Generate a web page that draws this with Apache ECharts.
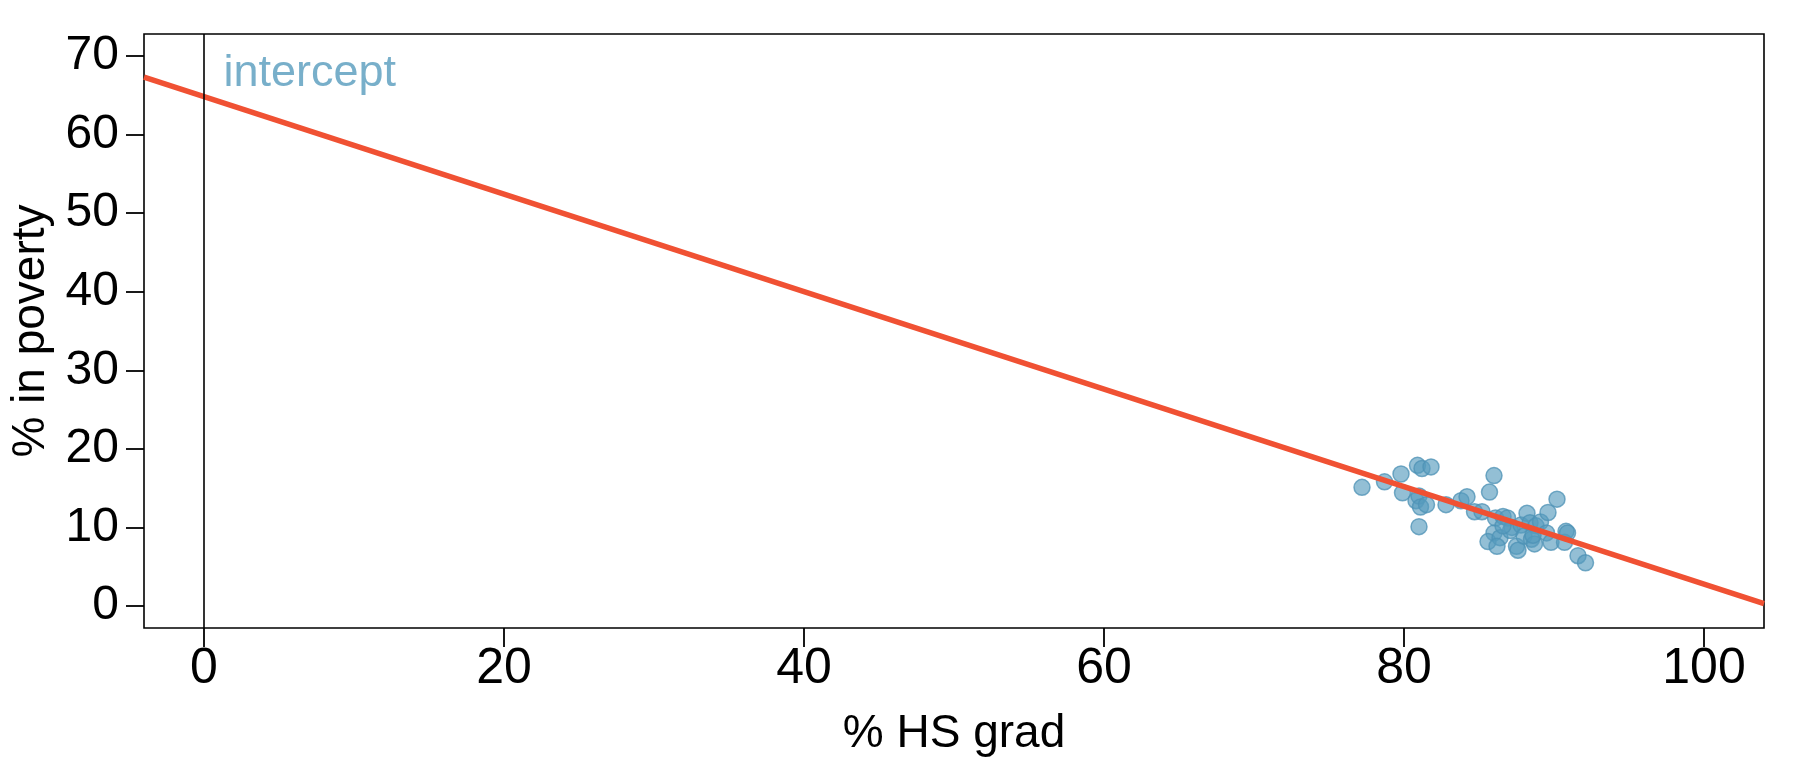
<!DOCTYPE html>
<html>
<head>
<meta charset="utf-8">
<script src="https://cdn.jsdelivr.net/npm/echarts@6/dist/echarts.min.js"></script>
<style>
  html, body { margin: 0; padding: 0; background: #fff; }
  #chart { width: 1800px; height: 773px; }
</style>
</head>
<body>
<div id="chart"></div>
<script>
// Data
const hsGrad = [77.2, 78.7, 79.8, 79.9, 80.9, 81.2, 81.8, 80.8, 81.0, 81.1, 81.5, 81.0,
  82.8, 83.8, 84.2, 84.7, 85.2, 86.0, 85.7, 86.1, 86.6, 86.9, 86.0, 85.6, 86.4, 86.2,
  87.2, 87.1, 87.5, 87.6, 87.8, 88.2, 88.4, 88.8, 89.1, 88.0, 88.5, 88.7, 89.5, 89.6,
  90.2, 89.8, 90.7, 90.8, 90.9, 91.6, 92.1, 88.6, 86.6];
const poverty = [15.1, 15.8, 16.8, 14.4, 17.9, 17.5, 17.7, 13.4, 14.0, 12.6, 12.9, 10.1,
  12.9, 13.4, 13.9, 12.0, 12.0, 16.6, 14.5, 11.2, 11.4, 11.2, 9.3, 8.2, 8.7, 7.6,
  10.0, 9.6, 7.6, 7.1, 10.3, 11.8, 10.6, 10.2, 10.7, 8.9, 8.5, 7.9, 9.3, 11.9,
  13.6, 8.1, 8.1, 9.5, 9.3, 6.4, 5.5, 9.0, 10.2];
const lineX = [-4, 104];
const lineY = [67.3, 0.3];
const xTicks = [0, 20, 40, 60, 80, 100];
const yTicks = [0, 10, 20, 30, 40, 50, 60, 70];
const labelPoint = [1.3, 67.7];
const labelText = 'intercept';
const xTitle = '% HS grad';
const yTitle = '% in poverty';

const FONT = 'Liberation Sans, Arial, Helvetica, sans-serif';
const chart = echarts.init(document.getElementById('chart'), null, { renderer: 'canvas' });

const scatterData = hsGrad.map((x, i) => [x, poverty[i]]);
const lineData = lineX.map((x, i) => [x, lineY[i]]);

chart.setOption({
  animation: false,
  backgroundColor: '#ffffff',
  grid: {
    left: 144, right: 36, top: 34, bottom: 145,
    containLabel: false, outerBoundsMode: 'none',
    show: true, borderColor: '#000', borderWidth: 1.6, backgroundColor: 'transparent'
  },
  xAxis: {
    type: 'value', min: -4, max: 104,
    name: xTitle, nameLocation: 'middle', nameGap: 83,
    nameTextStyle: { fontFamily: FONT, fontSize: 46, color: '#000' },
    axisLine: { show: false, onZero: false },
    axisTick: { show: true, inside: false, customValues: xTicks, length: 19, lineStyle: { color: '#000', width: 1.8 } },
    axisLabel: { customValues: xTicks, margin: 16, fontFamily: FONT, fontSize: 50, color: '#000' },
    splitLine: { show: false }
  },
  yAxis: {
    type: 'value', min: -2.8, max: 72.8,
    name: yTitle, nameLocation: 'middle', nameGap: 82, nameRotate: 90,
    nameTextStyle: { fontFamily: FONT, fontSize: 46, color: '#000' },
    axisLine: { show: false, onZero: false },
    axisTick: { show: true, inside: false, customValues: yTicks, length: 18, lineStyle: { color: '#000', width: 1.8 } },
    axisLabel: { customValues: yTicks, margin: 25, fontFamily: FONT, fontSize: 48, color: '#000' },
    splitLine: { show: false }
  },
  series: [
    {
      type: 'scatter',
      data: scatterData,
      symbolSize: 16,
      z: 2,
      itemStyle: { color: 'rgba(86,155,189,0.8)', borderColor: 'rgba(78,146,182,0.95)', borderWidth: 1.5 }
    },
    {
      type: 'line',
      data: lineData,
      showSymbol: false,
      z: 3,
      lineStyle: { color: '#F05133', width: 5.5 },
      markLine: {
        silent: true,
        symbol: ['none', 'none'],
        label: { show: false },
        lineStyle: { color: '#000', width: 1.6, type: 'solid' },
        data: [{ xAxis: 0 }]
      }
    },
    {
      type: 'scatter',
      data: [labelPoint],
      symbolSize: 0,
      z: 4,
      label: {
        show: true, position: 'right', distance: 0,
        formatter: labelText,
        fontFamily: FONT, fontSize: 45, color: '#569BBD'
      }
    }
  ]
});
</script>
</body>
</html>
